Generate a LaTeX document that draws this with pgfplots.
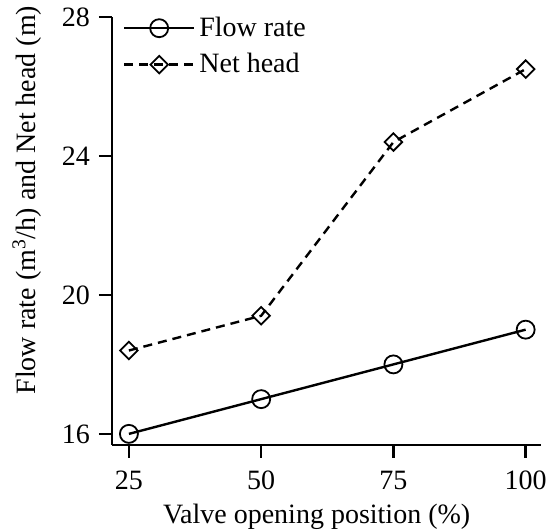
\documentclass[border=0pt]{standalone}
\usepackage{fontspec}
\setmainfont{Liberation Serif}
\usepackage{pgfplots}
\pgfplotsset{compat=1.18}

\pgfplotstableread{
x   flow  head
25  16.0  18.4
50  17.0  19.4
75  18.0  24.4
100 19.0  26.5
}\valvedata

\begin{document}
\begin{tikzpicture}
\begin{axis}[
  name=ax,
  scale only axis,
  width=214.5pt, height=214pt,
  xmin=21.8, xmax=102.9,
  ymin=15.68, ymax=28,
  axis x line=bottom, axis y line=left,
  axis line style={-, line width=1.2pt},
  xtick={25,50,75,100}, ytick={16,20,24,28},
  tick align=outside,
  major tick length=6.5pt,
  tick style={line width=1.2pt, black},
  font=\fontsize{14}{17}\selectfont,
  /pgf/number format/assume math mode=true,
  ticklabel style={font=\fontsize{14}{17}\selectfont},
  xticklabel style={yshift=-3pt},
  yticklabel style={xshift=-1pt},
  xlabel={Valve opening position (\%)},
  ylabel={Flow rate (m\textsuperscript{3}/h) and Net head (m)},
  xlabel style={at={(axis description cs:0.477,-0.168)}, anchor=center},
  ylabel style={at={(axis description cs:-0.198,0.572)}, anchor=center},
  legend style={draw=none, fill=none, at={(axis description cs:0.02,1.015)},
    anchor=north west, font=\fontsize{14}{17}\selectfont,
    row sep=3pt, inner sep=1pt},
  legend cell align=left,
  legend image code/.code={
    \draw[mark repeat=2, mark phase=2] plot coordinates {(0pt,0pt) (17.5pt,0pt) (35pt,0pt)};
  },
]
\addplot[black, line width=1.2pt, mark=o, mark size=4.5pt,
  mark options={solid, line width=0.9pt}]
  table[x=x, y=flow] {\valvedata};
\addlegendentry{Flow rate}
\addplot[black, line width=1.2pt, dash pattern=on 4.5pt off 3pt,
  mark=square, mark size=3.1pt, mark options={solid, rotate=45, line width=0.9pt}]
  table[x=x, y=head] {\valvedata};
\addlegendentry{Net head}
\end{axis}
\pgfresetboundingbox
\path ([xshift=-56pt, yshift=-43.5pt]ax.south west) rectangle ([xshift=2.5pt, yshift=8.5pt]ax.north east);
\end{tikzpicture}
\end{document}
